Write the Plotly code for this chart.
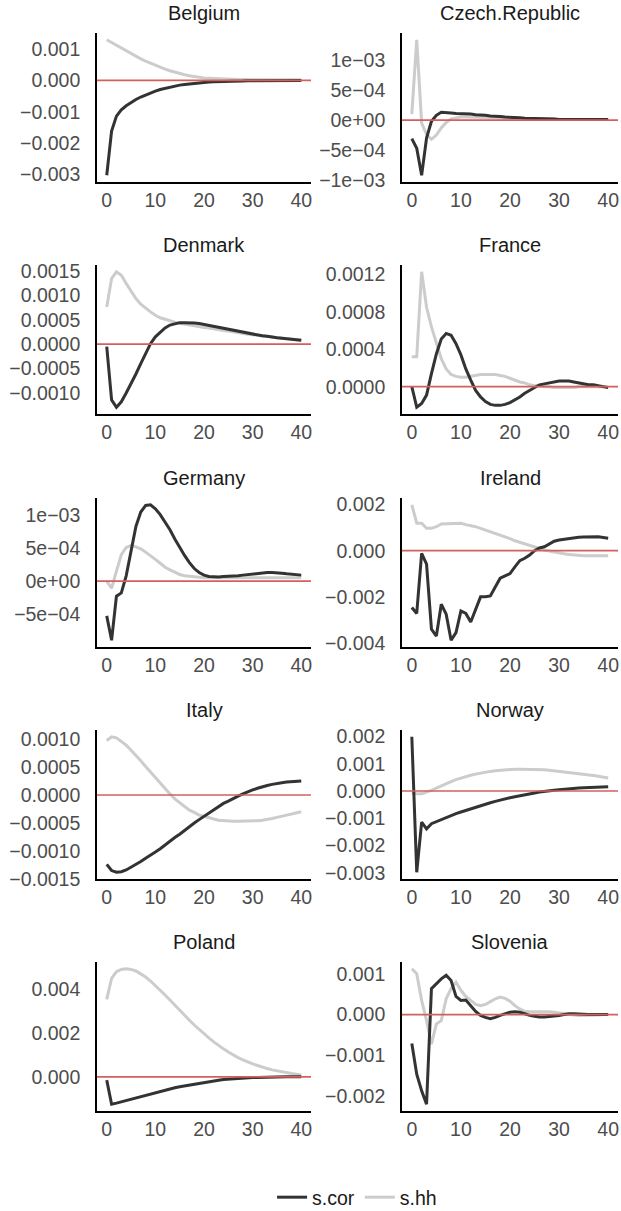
import plotly.graph_objects as go

W, H = 621, 1211

horizon = list(range(41))

countries = ["Belgium", "Czech.Republic", "Denmark", "France", "Germany",
             "Ireland", "Italy", "Norway", "Poland", "Slovenia"]

belgium_cor = [-0.00303, -0.00162, -0.00114, -0.00094, -0.00081, -0.00070, -0.00061, -0.00053, -0.00046, -0.00040,
               -0.00034, -0.00029, -0.00025, -0.00021, -0.00018, -0.00015, -0.00013, -0.00011, -0.00009, -0.00008,
               -0.00006, -0.00005, -0.00004, -0.00004, -0.00003, -0.00003, -0.00002, -0.00002, -0.00002, -0.00001,
               -0.00001, -0.00001, -0.00001, -0.00001, 0.0, 0.0, 0.0, 0.0, 0.0, 0.0, 0.0]
belgium_hh = [0.00130, 0.00121, 0.00112, 0.00103, 0.00094, 0.00085, 0.00077, 0.00069, 0.00062, 0.00055,
              0.00048, 0.00042, 0.00036, 0.00031, 0.00026, 0.00022, 0.00018, 0.00015, 0.00012, 0.00010,
              0.00008, 0.00007, 0.00006, 0.00005, 0.00004, 0.00004, 0.00003, 0.00003, 0.00003, 0.00002,
              0.00002, 0.00002, 0.00002, 0.00002, 0.00002, 0.00002, 0.00002, 0.00002, 0.00002, 0.00002, 0.00002]

czech_cor = [-0.00031, -0.00047, -0.00092, -0.00030, -0.00002, 0.00008, 0.00013, 0.00013, 0.00012, 0.00011,
             0.00011, 0.00010, 0.00010, 0.00009, 0.00009, 0.00008, 0.00007, 0.00007, 0.00006, 0.00005,
             0.00005, 0.00004, 0.00004, 0.00003, 0.00003, 0.00003, 0.00002, 0.00002, 0.00002, 0.00002,
             0.00001, 0.00001, 0.00001, 0.00001, 0.00001, 0.00001, 0.00001, 0.00001, 0.00001, 0.00001, 0.00001]
czech_hh = [0.00010, 0.00134, -0.00005, -0.00024, -0.00032, -0.00025, -0.00013, -0.00004, 0.00002, 0.00004,
            0.00005, 0.00005, 0.00005, 0.00005, 0.00004, 0.00004, 0.00004, 0.00004, 0.00003, 0.00003,
            0.00003, 0.00003, 0.00003, 0.00003, 0.00002, 0.00002, 0.00002, 0.00002, 0.00002, 0.00002,
            0.00001, 0.00001, 0.00001, 0.00001, 0.00001, 0.00001, 0.00001, 0.00001, 0.00001, 0.00001, 0.00001]

denmark_cor = [-0.00005, -0.00114, -0.00129, -0.00118, -0.00100, -0.00082, -0.00061, -0.00040, -0.00018, 0.00001,
               0.00015, 0.00025, 0.00033, 0.00039, 0.00042, 0.00044, 0.00044, 0.00044, 0.00043, 0.00042,
               0.00040, 0.00038, 0.00036, 0.00034, 0.00032, 0.00030, 0.00028, 0.00026, 0.00024, 0.00022,
               0.00020, 0.00019, 0.00017, 0.00016, 0.00014, 0.00013, 0.00012, 0.00011, 0.00010, 0.00009, 0.00008]
denmark_hh = [0.00076, 0.00134, 0.00148, 0.00141, 0.00124, 0.00107, 0.00093, 0.00082, 0.00073, 0.00066,
              0.00059, 0.00054, 0.00051, 0.00048, 0.00045, 0.00042, 0.00041, 0.00039, 0.00037, 0.00036,
              0.00034, 0.00033, 0.00031, 0.00030, 0.00028, 0.00027, 0.00025, 0.00024, 0.00022, 0.00020,
              0.00019, 0.00018, 0.00016, 0.00015, 0.00014, 0.00013, 0.00012, 0.00011, 0.00010, 0.00009, 0.00008]

france_cor = [0.00000, -0.00022, -0.00018, -0.00009, 0.00014, 0.00035, 0.00051, 0.00057, 0.00055, 0.00046,
              0.00034, 0.00019, 0.00007, -0.00004, -0.00011, -0.00016, -0.00019, -0.00020, -0.00020, -0.00019,
              -0.00017, -0.00014, -0.00011, -0.00007, -0.00004, -0.00001, 0.00002, 0.00003, 0.00004, 0.00005,
              0.00006, 0.00006, 0.00006, 0.00005, 0.00004, 0.00003, 0.00002, 0.00002, 0.00001, 0.00000, -0.00001]
france_hh = [0.00032, 0.00032, 0.00123, 0.00085, 0.00064, 0.00046, 0.00030, 0.00019, 0.00013, 0.00011,
             0.00010, 0.00010, 0.00011, 0.00012, 0.00013, 0.00013, 0.00013, 0.00013, 0.00012, 0.00011,
             0.00009, 0.00007, 0.00005, 0.00004, 0.00002, 0.00001, 0.00001, 0.00000, 0.00000, -0.00001,
             -0.00001, -0.00001, -0.00001, -0.00001, 0.00000, 0.00000, 0.00000, 0.00000, 0.00000, 0.00000, 0.00000]

germany_cor = [-0.00053, -0.00090, -0.00023, -0.00018, 0.00008, 0.00045, 0.00083, 0.00105, 0.00115, 0.00116,
               0.00110, 0.00101, 0.00090, 0.00078, 0.00064, 0.00051, 0.00039, 0.00028, 0.00019, 0.00013,
               0.00009, 0.00007, 0.00006, 0.00006, 0.00007, 0.00007, 0.00008, 0.00008, 0.00009, 0.00010,
               0.00011, 0.00012, 0.00013, 0.00013, 0.00013, 0.00013, 0.00012, 0.00011, 0.00010, 0.00010, 0.00009]
germany_hh = [0.00000, -0.00011, 0.00015, 0.00040, 0.00051, 0.00054, 0.00052, 0.00049, 0.00044, 0.00039,
              0.00033, 0.00027, 0.00021, 0.00017, 0.00013, 0.00010, 0.00008, 0.00007, 0.00006, 0.00006,
              0.00005, 0.00005, 0.00005, 0.00005, 0.00005, 0.00005, 0.00005, 0.00005, 0.00005, 0.00005,
              0.00006, 0.00006, 0.00006, 0.00006, 0.00006, 0.00006, 0.00006, 0.00005, 0.00005, 0.00005, 0.00005]

ireland_cor = [-0.00246, -0.00272, -0.00012, -0.00058, -0.00340, -0.00370, -0.00232, -0.00275, -0.00388, -0.00355,
               -0.00261, -0.00272, -0.00309, -0.00254, -0.00200, -0.00200, -0.00196, -0.00157, -0.00119, -0.00109,
               -0.00099, -0.00070, -0.00043, -0.00033, -0.00019, 0.00000, 0.00012, 0.00017, 0.00029, 0.00041,
               0.00046, 0.00049, 0.00052, 0.00057, 0.00058, 0.00059, 0.00060, 0.00060, 0.00060, 0.00057, 0.00054]
ireland_hh = [0.00199, 0.00119, 0.00119, 0.00097, 0.00097, 0.00104, 0.00116, 0.00116, 0.00116, 0.00119,
              0.00119, 0.00113, 0.00109, 0.00104, 0.00097, 0.00090, 0.00083, 0.00075, 0.00068, 0.00059,
              0.00052, 0.00043, 0.00036, 0.00029, 0.00022, 0.00014, 0.00009, 0.00003, -0.00001, -0.00006,
              -0.00010, -0.00013, -0.00016, -0.00019, -0.00020, -0.00022, -0.00022, -0.00022, -0.00022, -0.00022, -0.00022]

italy_cor = [-0.00124, -0.00135, -0.00138, -0.00137, -0.00134, -0.00129, -0.00125, -0.00119, -0.00113, -0.00108,
             -0.00102, -0.00096, -0.00089, -0.00083, -0.00076, -0.00070, -0.00063, -0.00057, -0.00050, -0.00044,
             -0.00038, -0.00032, -0.00026, -0.00021, -0.00015, -0.00011, -0.00006, -0.00002, 0.00002, 0.00006,
             0.00009, 0.00012, 0.00015, 0.00017, 0.00019, 0.00021, 0.00022, 0.00023, 0.00024, 0.00024, 0.00025]
italy_hh = [0.00097, 0.00104, 0.00102, 0.00096, 0.00089, 0.00080, 0.00071, 0.00061, 0.00051, 0.00041,
            0.00031, 0.00021, 0.00011, 0.00002, -0.00007, -0.00014, -0.00021, -0.00027, -0.00031, -0.00036,
            -0.00038, -0.00041, -0.00043, -0.00045, -0.00046, -0.00047, -0.00047, -0.00047, -0.00047, -0.00047,
            -0.00047, -0.00046, -0.00045, -0.00044, -0.00042, -0.00040, -0.00038, -0.00036, -0.00034, -0.00032, -0.00030]

norway_cor = [0.00199, -0.00298, -0.00114, -0.00139, -0.00120, -0.00112, -0.00104, -0.00097, -0.00090, -0.00083,
              -0.00077, -0.00071, -0.00065, -0.00059, -0.00053, -0.00048, -0.00043, -0.00038, -0.00033, -0.00029,
              -0.00025, -0.00021, -0.00017, -0.00013, -0.00010, -0.00007, -0.00004, -0.00001, 0.00001, 0.00003,
              0.00005, 0.00007, 0.00009, 0.00010, 0.00011, 0.00012, 0.00013, 0.00014, 0.00015, 0.00015, 0.00016]
norway_hh = [-0.00007, -0.00010, -0.00010, -0.00004, 0.00002, 0.00011, 0.00018, 0.00027, 0.00034, 0.00042,
             0.00048, 0.00053, 0.00058, 0.00062, 0.00066, 0.00069, 0.00072, 0.00074, 0.00076, 0.00078,
             0.00079, 0.00080, 0.00080, 0.00080, 0.00080, 0.00080, 0.00079, 0.00078, 0.00076, 0.00074,
             0.00072, 0.00071, 0.00069, 0.00067, 0.00064, 0.00062, 0.00059, 0.00057, 0.00054, 0.00051, 0.00048]

poland_cor = [-0.00015, -0.00125, -0.00120, -0.00114, -0.00108, -0.00102, -0.00096, -0.00090, -0.00084, -0.00078,
              -0.00071, -0.00066, -0.00061, -0.00055, -0.00050, -0.00045, -0.00041, -0.00036, -0.00032, -0.00028,
              -0.00024, -0.00021, -0.00018, -0.00015, -0.00012, -0.00010, -0.00008, -0.00006, -0.00005, -0.00004,
              -0.00003, -0.00003, -0.00002, -0.00002, -0.00001, -0.00001, -0.00001, 0.00000, 0.00000, 0.00000, 0.00000]
poland_hh = [0.00354, 0.00450, 0.00481, 0.00491, 0.00494, 0.00491, 0.00484, 0.00471, 0.00456, 0.00438,
             0.00418, 0.00397, 0.00374, 0.00351, 0.00327, 0.00304, 0.00281, 0.00259, 0.00237, 0.00216,
             0.00196, 0.00178, 0.00160, 0.00143, 0.00128, 0.00114, 0.00100, 0.00088, 0.00078, 0.00068,
             0.00059, 0.00052, 0.00044, 0.00038, 0.00032, 0.00027, 0.00023, 0.00018, 0.00015, 0.00012, 0.00009]

slovenia_cor = [-0.00071, -0.00147, -0.00188, -0.00221, 0.00064, 0.00076, 0.00088, 0.00097, 0.00084, 0.00045,
                0.00035, 0.00036, 0.00022, 0.00008, -0.00002, -0.00007, -0.00010, -0.00007, -0.00002, 0.00002,
                0.00006, 0.00007, 0.00006, 0.00002, -0.00002, -0.00004, -0.00006, -0.00006, -0.00005, -0.00003,
                -0.00002, 0.00000, 0.00002, 0.00002, 0.00001, 0.00001, 0.00000, 0.00000, 0.00000, 0.00000, 0.00000]
slovenia_hh = [0.00113, 0.00101, 0.00035, -0.00015, -0.00073, -0.00023, -0.00015, 0.00039, 0.00064, 0.00080,
               0.00060, 0.00045, 0.00035, 0.00025, 0.00022, 0.00025, 0.00032, 0.00039, 0.00043, 0.00040,
               0.00033, 0.00022, 0.00014, 0.00008, 0.00007, 0.00007, 0.00007, 0.00008, 0.00007, 0.00006,
               0.00004, 0.00002, 0.00001, -0.00001, -0.00002, -0.00002, -0.00002, -0.00002, -0.00001, 0.00000, 0.00001]

s_cor = [belgium_cor, czech_cor, denmark_cor, france_cor, germany_cor,
         ireland_cor, italy_cor, norway_cor, poland_cor, slovenia_cor]
s_hh = [belgium_hh, czech_hh, denmark_hh, france_hh, germany_hh,
        ireland_hh, italy_hh, norway_hh, poland_hh, slovenia_hh]

x_ticks = [0, 10, 20, 30, 40]
y_tickvals = [
    [0.001, 0.0, -0.001, -0.002, -0.003],
    [0.001, 0.0005, 0.0, -0.0005, -0.001],
    [0.0015, 0.001, 0.0005, 0.0, -0.0005, -0.001],
    [0.0012, 0.0008, 0.0004, 0.0],
    [0.001, 0.0005, 0.0, -0.0005],
    [0.002, 0.0, -0.002, -0.004],
    [0.001, 0.0005, 0.0, -0.0005, -0.001, -0.0015],
    [0.002, 0.001, 0.0, -0.001, -0.002, -0.003],
    [0.004, 0.002, 0.0],
    [0.001, 0.0, -0.001, -0.002],
]
y_ticktext = [
    ["0.001", "0.000", "\u22120.001", "\u22120.002", "\u22120.003"],
    ["1e\u221203", "5e\u221204", "0e+00", "\u22125e\u221204", "\u22121e\u221203"],
    ["0.0015", "0.0010", "0.0005", "0.0000", "\u22120.0005", "\u22120.0010"],
    ["0.0012", "0.0008", "0.0004", "0.0000"],
    ["1e\u221203", "5e\u221204", "0e+00", "\u22125e\u221204"],
    ["0.002", "0.000", "\u22120.002", "\u22120.004"],
    ["0.0010", "0.0005", "0.0000", "\u22120.0005", "\u22120.0010", "\u22120.0015"],
    ["0.002", "0.001", "0.000", "\u22120.001", "\u22120.002", "\u22120.003"],
    ["0.004", "0.002", "0.000"],
    ["0.001", "0.000", "\u22120.001", "\u22120.002"],
]

COL_COR = "#333333"
COL_HH = "#CCCCCC"
COL_REF = "#D35F5F"
FONT = "Liberation Sans"
FS_TICK = 19.5
FS_TITLE = 20

col_px = [(97, 311), (402, 618)]
row_top_px = [33, 265, 498, 730, 962]
panel_h = 149

fig = go.Figure()
layout = {}
shapes = []
annotations = []

for i, name in enumerate(countries):
    r, c = divmod(i, 2)
    n = i + 1
    xs = "" if n == 1 else str(n)
    x0p, x1p = col_px[c]
    top = row_top_px[r]
    xdom = [x0p / W, x1p / W]
    ydom = [1 - (top + panel_h) / H, 1 - top / H]

    fig.add_trace(go.Scatter(x=horizon, y=s_hh[i], mode="lines", name="s.hh",
                             line=dict(color=COL_HH, width=3), legendgroup="hh",
                             legendrank=2, showlegend=(i == 0),
                             xaxis="x" + xs, yaxis="y" + xs))
    fig.add_trace(go.Scatter(x=horizon, y=s_cor[i], mode="lines", name="s.cor",
                             line=dict(color=COL_COR, width=3), legendgroup="cor",
                             legendrank=1, showlegend=(i == 0),
                             xaxis="x" + xs, yaxis="y" + xs))

    vals = s_cor[i] + s_hh[i] + [0.0]
    lo, hi = min(vals), max(vals)
    pad = 0.05 * (hi - lo)

    layout["xaxis" + xs] = dict(
        domain=xdom, anchor="y" + xs, range=[-2, 42], tickvals=x_ticks,
        showline=True, linecolor="black", linewidth=1.6, showgrid=False,
        zeroline=False, ticks="", automargin=False,
        tickfont=dict(family=FONT, size=FS_TICK, color="#4D4D4D"), fixedrange=True)
    layout["yaxis" + xs] = dict(
        domain=ydom, anchor="x" + xs, range=[lo - pad, hi + pad],
        tickvals=y_tickvals[i], ticktext=y_ticktext[i],
        showline=True, linecolor="black", linewidth=1.6, showgrid=False,
        zeroline=False, ticks="outside", ticklen=11, tickcolor="rgba(0,0,0,0)",
        automargin=False,
        tickfont=dict(family=FONT, size=FS_TICK, color="#4D4D4D"), fixedrange=True)

    shapes.append(dict(type="line", xref="x" + xs + " domain", x0=0, x1=1,
                       yref="y" + xs, y0=0, y1=0, layer="above",
                       line=dict(color=COL_REF, width=1.7)))
    annotations.append(dict(text=name, xref="paper", yref="paper",
                            x=(xdom[0] + xdom[1]) / 2, y=1 - (top - 20) / H,
                            xanchor="center", yanchor="middle", showarrow=False,
                            font=dict(family=FONT, size=FS_TITLE, color="#1A1A1A")))

fig.update_layout(**layout)
fig.update_layout(
    width=W, height=H, margin=dict(l=0, r=0, t=0, b=0, autoexpand=False),
    paper_bgcolor="white", plot_bgcolor="white",
    shapes=shapes, annotations=annotations,
    showlegend=True,
    legend=dict(orientation="h", x=0.575, xanchor="center", y=-6 / H,
                yanchor="bottom", font=dict(family=FONT, size=FS_TICK, color="#1A1A1A"),
                itemwidth=30, traceorder="normal", bgcolor="rgba(0,0,0,0)"),
)

fig.write_html("out.html", config={"displayModeBar": False},
               post_script="document.body.style.margin='0';document.body.style.overflow='hidden';")
